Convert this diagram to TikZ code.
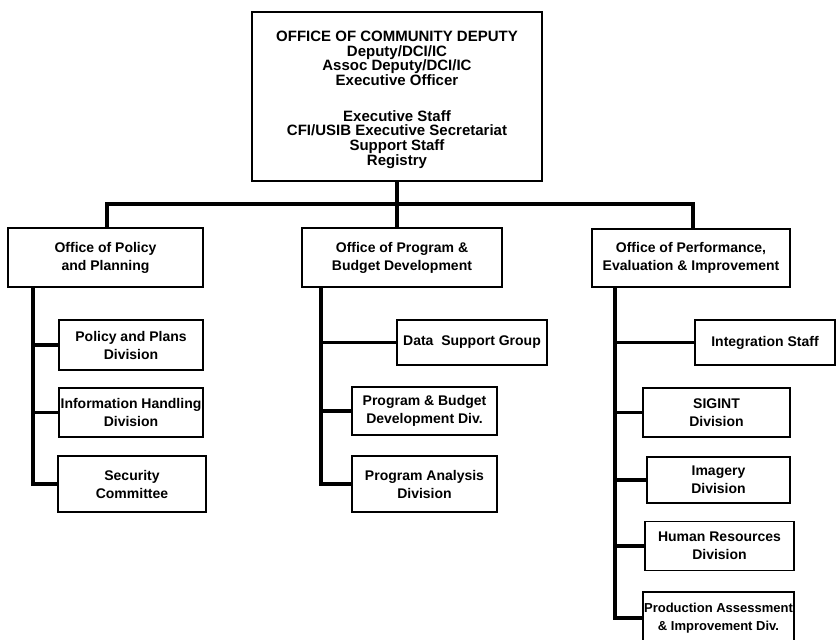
\documentclass[tikz,border=0pt]{standalone}
\usepackage{fontspec}
\setmainfont{Liberation Sans}
\begin{document}
\begin{tikzpicture}[x=1pt,y=-1pt,
 box/.style={draw, line width=1.9pt, align=center, inner sep=0pt, font=\bfseries\fontsize{14}{18}\selectfont},
 conn/.style={line width=3.2pt}]
\useasboundingbox (0,0) rectangle (836,640);
% top office
\node[box, line width=2.1pt, minimum width=290pt, minimum height=169pt, font=\bfseries\fontsize{15}{14.7}\selectfont] (top) at (397,96.5)
 {\rule{0pt}{17pt}OFFICE OF COMMUNITY DEPUTY\\Deputy/DCI/IC\\Assoc Deputy/DCI/IC\\Executive Officer\\[21pt]Executive Staff\\CFI/USIB Executive Secretariat\\Support Staff\\Registry};
% offices
\node[box, minimum width=195pt, minimum height=59pt] (pp) at (105.5,257.5) {Office of Policy\\and Planning};
\node[box, minimum width=200pt, minimum height=59pt] (pb) at (402,257.5) {Office of Program \&\\Budget Development};
\node[box, minimum width=198pt, minimum height=58pt] (pe) at (691,258) {Office of Performance,\\Evaluation \& Improvement};
% left column
\node[box, minimum width=144pt, minimum height=50pt] (c1a) at (131,345) {Policy and Plans\\Division};
\node[box, minimum width=144pt, minimum height=49pt] (c1b) at (131,412.5) {Information Handling\\Division};
\node[box, minimum width=148pt, minimum height=56pt] (c1c) at (132,484) {Security\\Committee};
% middle column
\node[box, minimum width=150pt, minimum height=45pt] (c2a) at (472,342.5) {Data\ \ Support Group};
\node[box, minimum width=145pt, minimum height=48pt] (c2b) at (424.5,411) {Program \& Budget\\Development Div.};
\node[box, minimum width=145pt, minimum height=56pt] (c2c) at (424.5,484) {Program Analysis\\Division};
% right column
\node[box, minimum width=140pt, minimum height=45pt] (c3a) at (765,342.5) {Integration Staff};
\node[box, minimum width=147pt, minimum height=49pt] (c3b) at (716.5,412.5) {SIGINT\\Division};
\node[box, minimum width=143pt, minimum height=46pt] (c3c) at (718.5,480) {Imagery\\Division};
\node[box, minimum width=149pt, minimum height=49pt] (c3d) at (719.5,546) {Human Resources\\Division};
\node[box, minimum width=151pt, minimum height=52pt, font=\bfseries\fontsize{13}{18}\selectfont] (c3e) at (718.5,618) {Production Assessment\\\& Improvement Div.};
% top connectors
\coordinate (bL) at (107,204);
\coordinate (bR) at (693,204);
\draw[conn] (top.south) -- (top.south |- pb.north);
\draw[conn] (bL |- pp.north) -- (bL) -- (bR) -- (bR |- pe.north);
% spines
\coordinate (s1) at (33,0);
\coordinate (s2) at (321,0);
\coordinate (s3) at (615,0);
\draw[conn] (s1 |- pp.south) |- (c1c.west);
\draw[conn] (c1a.west) -- (c1a.west -| s1);
\draw[conn] (c1b.west) -- (c1b.west -| s1);
\draw[conn] (s2 |- pb.south) |- (c2c.west);
\draw[conn] (c2a.west) -- (c2a.west -| s2);
\draw[conn] (c2b.west) -- (c2b.west -| s2);
\draw[conn] (s3 |- pe.south) |- (c3e.west);
\draw[conn] (c3a.west) -- (c3a.west -| s3);
\draw[conn] (c3b.west) -- (c3b.west -| s3);
\draw[conn] (c3c.west) -- (c3c.west -| s3);
\draw[conn] (c3d.west) -- (c3d.west -| s3);
\end{tikzpicture}
\end{document}
